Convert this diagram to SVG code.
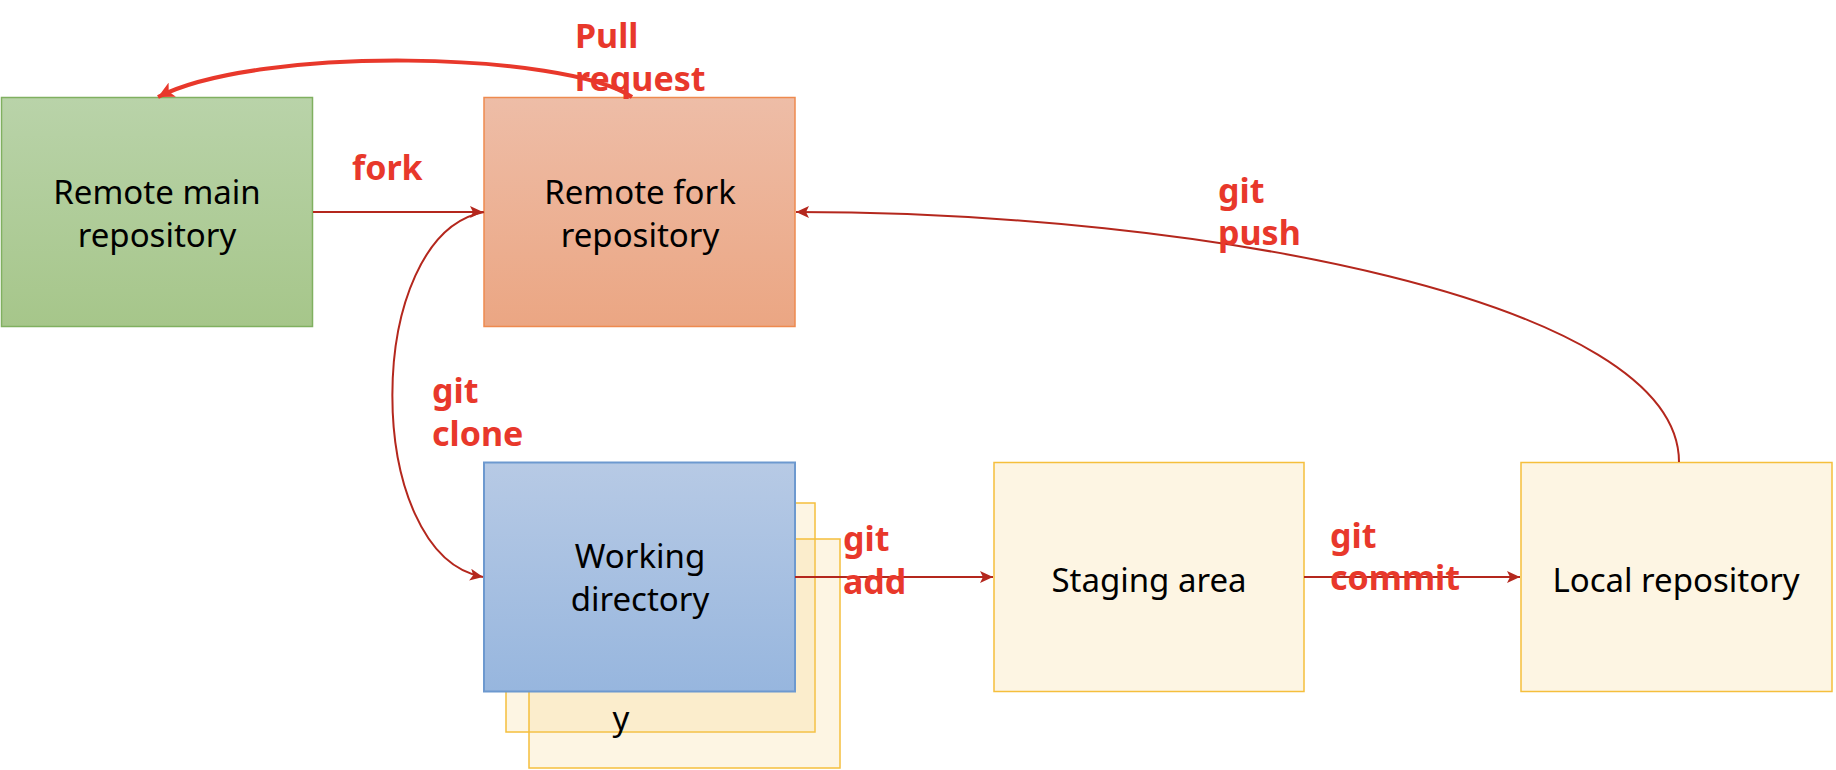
<svg xmlns="http://www.w3.org/2000/svg" width="1836" height="770" viewBox="0 0 1836 770">
<defs>
<linearGradient id="gGreen" x1="0" y1="0" x2="0" y2="1"><stop offset="0" stop-color="#b9d3a9"/><stop offset="1" stop-color="#a6c68a"/></linearGradient>
<linearGradient id="gOrange" x1="0" y1="0" x2="0" y2="1"><stop offset="0" stop-color="#eebda7"/><stop offset="1" stop-color="#eba683"/></linearGradient>
<linearGradient id="gBlue" x1="0" y1="0" x2="0" y2="1"><stop offset="0" stop-color="#b7cae5"/><stop offset="1" stop-color="#97b6de"/></linearGradient>
<marker id="ah" markerUnits="userSpaceOnUse" markerWidth="14" markerHeight="12" refX="13" refY="6" orient="auto"><path d="M0,0 L13,6 L0,12 L3,6 Z" fill="#b4271d"/></marker>
<marker id="ahPR" markerUnits="userSpaceOnUse" markerWidth="18" markerHeight="16" refX="16" refY="8" orient="auto"><path d="M0,0 L16,8 L0,16 L4,8 Z" fill="#e8382b"/></marker>
</defs>
<style>
.node text{font-family:"Noto Sans","Open Sans","Liberation Sans",sans-serif;font-size:33px;fill:#000;text-anchor:middle}
.lbl{font-family:"Noto Sans","Liberation Sans",sans-serif;font-size:34px;font-weight:bold;fill:#e8382b}
.conn{fill:none;stroke:#b4271d;stroke-width:2}
.ybox{fill:#f5cd73;fill-opacity:0.2;stroke:#f5bf3c;stroke-width:1.5}
.sbox{fill:#fdf5e3;stroke:#f5bf3c;stroke-width:1.5}
</style>
<rect width="1836" height="770" fill="#fff"/>

<g id="remote-main" class="node">
<rect x="1.5" y="97.5" width="311" height="229" fill="url(#gGreen)" stroke="#80b060" stroke-width="1.5"/>
<text x="157" y="204">Remote main</text>
<text x="157" y="247">repository</text>
</g>

<g id="remote-fork" class="node">
<rect x="484" y="97.5" width="311" height="229" fill="url(#gOrange)" stroke="#ee8a4f" stroke-width="1.5"/>
<text x="640" y="204">Remote fork</text>
<text x="640" y="247">repository</text>
</g>

<g id="working-stack" class="node">
<rect class="ybox" x="506" y="503" width="309" height="229"/>
<rect class="ybox" x="529" y="539" width="311" height="229"/>
<text x="621" y="730">y</text>
</g>

<g id="working-directory" class="node">
<rect x="484" y="462.5" width="311" height="229" fill="url(#gBlue)" stroke="#6d99cf" stroke-width="2"/>
<text x="640" y="568">Working</text>
<text x="640" y="611">directory</text>
</g>

<g id="staging-area" class="node">
<rect class="sbox" x="994" y="462.5" width="310" height="229"/>
<text x="1149" y="592">Staging area</text>
</g>

<g id="local-repository" class="node">
<rect class="sbox" x="1521" y="462.5" width="311" height="229"/>
<text x="1676" y="592">Local repository</text>
</g>

<g id="connectors">
<path class="conn" d="M313,212 L483,212" stroke-width="2.5" marker-end="url(#ah)"/>
<path class="conn" d="M484,212 C362,235 362,555 483,577" marker-end="url(#ah)"/>
<path class="conn" d="M795,577 L993,577" stroke-width="2.5" marker-end="url(#ah)"/>
<path class="conn" d="M1304,577 L1520,577" stroke-width="2.5" marker-end="url(#ah)"/>
<path class="conn" d="M1679,462 C1679,300 1200,212 796,212" marker-end="url(#ah)"/>
<path d="M632,97 C565,52 260,45 158,97" fill="none" stroke="#e8382b" stroke-width="4" marker-end="url(#ahPR)"/>
</g>

<g id="labels">
<text class="lbl" x="575" y="48">Pull</text>
<text class="lbl" x="575" y="91">request</text>
<text class="lbl" x="352" y="180">fork</text>
<text class="lbl" x="1218" y="203">git</text>
<text class="lbl" x="1218" y="245">push</text>
<text class="lbl" x="432" y="403">git</text>
<text class="lbl" x="432" y="446">clone</text>
<text class="lbl" x="843" y="551">git</text>
<text class="lbl" x="843" y="594">add</text>
<text class="lbl" x="1330" y="548">git</text>
<text class="lbl" x="1330" y="590">commit</text>
</g>
</svg>
